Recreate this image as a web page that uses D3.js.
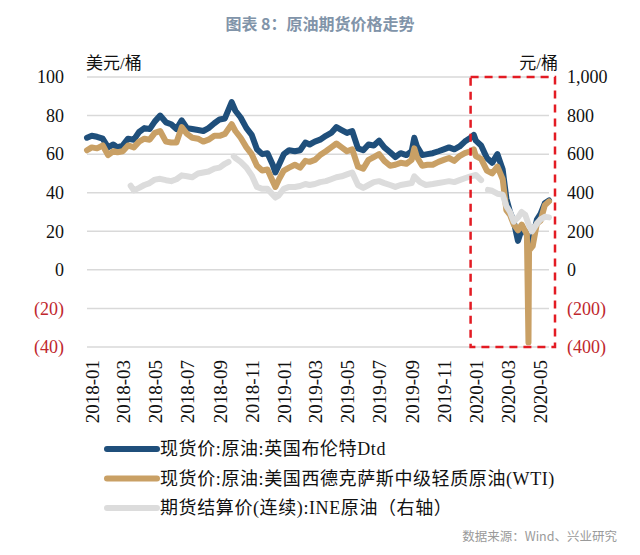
<!DOCTYPE html>
<html>
<head>
<meta charset="utf-8">
<script src="https://cdn.jsdelivr.net/npm/d3@7"></script>
<style>
  body { margin: 0; background: #fff; }
  svg { display: block; }
</style>
</head>
<body>
<script>
var width = 640;
var height = 555;

// spot prices (USD/bbl), same dates for both spot series
var spotDates = [
  "2018-01-02","2018-01-11","2018-01-21","2018-02-01","2018-02-11","2018-02-21",
  "2018-03-01","2018-03-11","2018-03-21","2018-04-01","2018-04-11","2018-04-21",
  "2018-05-01","2018-05-11","2018-05-21","2018-06-01","2018-06-11","2018-06-21",
  "2018-07-01","2018-07-11","2018-07-21","2018-08-01","2018-08-11","2018-08-21",
  "2018-09-01","2018-09-11","2018-09-21","2018-10-04","2018-10-11","2018-10-21",
  "2018-11-01","2018-11-11","2018-11-21","2018-12-01","2018-12-11","2018-12-21","2018-12-26",
  "2019-01-01","2019-01-11","2019-01-21","2019-02-01","2019-02-11","2019-02-21",
  "2019-03-01","2019-03-11","2019-03-21","2019-04-01","2019-04-11","2019-04-21",
  "2019-05-01","2019-05-11","2019-05-21","2019-06-01","2019-06-11","2019-06-21",
  "2019-07-01","2019-07-11","2019-07-21","2019-08-01","2019-08-11","2019-08-21",
  "2019-09-01","2019-09-11","2019-09-16","2019-09-21","2019-10-01","2019-10-11","2019-10-21",
  "2019-11-01","2019-11-11","2019-11-21","2019-12-01","2019-12-11","2019-12-21",
  "2020-01-01","2020-01-07","2020-01-11","2020-01-21","2020-02-01","2020-02-11","2020-02-21",
  "2020-03-02","2020-03-09","2020-03-16","2020-03-23","2020-03-31","2020-04-07","2020-04-14",
  "2020-04-17","2020-04-20","2020-04-21","2020-04-28","2020-05-06","2020-05-13","2020-05-21","2020-05-29"
];

var brent = [
  68.5,69.5,69.0,68.0,63.5,65.0,
  63.5,64.5,68.0,67.5,71.5,73.5,
  73.0,77.0,80.0,76.5,75.5,73.0,
  77.5,73.5,73.0,72.5,72.0,73.5,
  76.0,78.0,78.5,87.0,82.5,79.0,
  73.5,70.0,62.5,60.0,60.5,54.5,50.5,
  54.0,60.0,62.0,61.5,62.0,66.0,
  65.0,66.5,67.5,69.5,71.0,74.0,
  72.5,71.0,72.0,63.0,62.0,65.0,
  64.5,67.0,63.5,61.0,58.5,60.5,
  59.5,61.5,68.5,64.0,59.5,60.0,60.5,
  61.5,62.5,63.5,62.5,64.0,66.5,
  68.5,70.0,67.0,64.5,58.0,55.5,60.0,
  52.0,37.0,30.0,25.0,15.0,21.0,20.0,
  18.0,15.5,14.0,16.5,26.0,29.0,34.5,36.0
];

var wti = [
  62.0,63.5,63.0,64.5,59.5,61.5,
  61.0,61.5,64.5,63.5,66.5,68.0,
  67.5,71.0,72.0,66.5,66.0,66.0,
  74.0,70.5,68.5,68.0,66.5,67.5,
  69.5,69.5,70.5,75.5,72.0,68.5,
  63.5,60.0,54.0,51.5,52.0,46.0,43.0,
  46.5,51.5,53.0,54.5,53.0,56.5,
  56.0,57.0,59.5,61.5,63.5,65.5,
  63.5,61.5,62.5,53.5,52.5,57.0,
  58.5,60.0,56.5,54.0,54.5,55.5,
  55.0,57.0,63.0,58.5,54.0,54.5,54.5,
  56.0,57.0,58.0,56.5,59.0,60.5,
  61.5,62.5,59.0,57.5,51.5,50.0,53.5,
  47.0,31.0,28.5,23.5,20.5,23.5,20.0,
  18.3,-37.6,10.0,12.3,24.0,25.5,33.5,35.5
];

// INE crude futures settlement (CNY/bbl), null = exchange holiday gap
var ineDates = [
  "2018-03-26","2018-04-01","2018-04-11","2018-04-21","2018-05-01","2018-05-11","2018-05-21",
  "2018-06-01","2018-06-11","2018-06-21","2018-07-01","2018-07-11","2018-07-21",
  "2018-08-01","2018-08-11","2018-08-21","2018-09-01","2018-09-11","2018-09-21","2018-09-28",
  "2018-10-03","2018-10-08","2018-10-11","2018-10-21","2018-11-01","2018-11-11","2018-11-21",
  "2018-12-01","2018-12-11","2018-12-21","2018-12-26","2019-01-01","2019-01-11","2019-01-21",
  "2019-02-01","2019-02-11","2019-02-21","2019-03-01","2019-03-11","2019-03-21",
  "2019-04-01","2019-04-11","2019-04-21","2019-05-01","2019-05-11","2019-05-21",
  "2019-06-01","2019-06-11","2019-06-21","2019-07-01","2019-07-11","2019-07-21",
  "2019-08-01","2019-08-11","2019-08-21","2019-09-01","2019-09-11","2019-09-16","2019-09-27",
  "2019-10-08","2019-10-21","2019-11-01","2019-11-11","2019-11-21",
  "2019-12-01","2019-12-11","2019-12-21","2020-01-01","2020-01-11","2020-01-21",
  "2020-01-27","2020-02-03","2020-02-11","2020-02-21","2020-03-02","2020-03-09","2020-03-16",
  "2020-03-23","2020-04-01","2020-04-07","2020-04-14","2020-04-21","2020-04-27",
  "2020-05-06","2020-05-13","2020-05-21","2020-05-29"
];

var ine = [
  436,412,425,440,450,468,472,
  465,460,470,490,485,480,
  500,505,510,525,530,550,560,
  null,588,580,560,530,490,430,
  420,420,390,375,385,420,430,
  430,435,445,440,445,455,
  460,470,480,485,495,505,
  440,425,440,455,460,450,
  440,430,440,445,450,485,455,
  440,445,450,455,460,
  455,465,475,485,492,465,
  null,415,410,395,390,330,300,
  250,275,300,285,230,200,
  240,262,275,272
];

var leftTicks = [100, 80, 60, 40, 20, 0, -20, -40];
var rightTicks = [1000, 800, 600, 400, 200, 0, -200, -400];
var xTickLabels = ["2018-01","2018-03","2018-05","2018-07","2018-09","2018-11",
  "2019-01","2019-03","2019-05","2019-07","2019-09","2019-11",
  "2020-01","2020-03","2020-05"];

var seriesNames = ["现货价:原油:英国布伦特Dtd",
  "现货价:原油:美国西德克萨斯中级轻质原油(WTI)",
  "期货结算价(连续):INE原油（右轴）"];
var seriesColors = ["#1f4f7b", "#c9a065", "#dcdcdc"];

var parseDay = d3.timeParse("%Y-%m-%d");
var parseMonth = d3.timeParse("%Y-%m");

var serif = "'Liberation Serif', 'Noto Sans CJK SC', serif";
var redText = "#c0272d";

var svg = d3.select("body").append("svg")
  .attr("width", width)
  .attr("height", height);

var x = d3.scaleTime()
  .domain([parseDay(spotDates[0]), parseDay(spotDates[spotDates.length - 1])])
  .range([87, 549]);
var y = d3.scaleLinear().domain([-40, 100]).range([347, 77]);
var y2 = d3.scaleLinear().domain([-400, 1000]).range([347, 77]);

// title
svg.append("text")
  .attr("x", 320)
  .attr("y", 30)
  .attr("text-anchor", "middle")
  .style("font-family", "'Noto Sans CJK SC', sans-serif")
  .style("font-size", "16px")
  .style("font-weight", "bold")
  .style("fill", "#8194a9")
  .text("图表 8：原油期货价格走势");

// gridlines
svg.append("g").selectAll("line")
  .data(leftTicks)
  .join("line")
  .attr("x1", 87)
  .attr("x2", 549)
  .attr("y1", function(d) { return y(d); })
  .attr("y2", function(d) { return y(d); })
  .attr("stroke", "#d9d9d9")
  .attr("stroke-width", 1.5);

// left axis labels
svg.append("g").selectAll("text")
  .data(leftTicks)
  .join("text")
  .attr("x", 64)
  .attr("y", function(d) { return y(d); })
  .attr("dy", "0.35em")
  .attr("text-anchor", "end")
  .style("font-family", serif)
  .style("font-size", "18px")
  .style("fill", function(d) { return d < 0 ? redText : "#111"; })
  .text(function(d) { return d < 0 ? "(" + Math.abs(d) + ")" : d; });

// right axis labels
var fmt = d3.format(",");
svg.append("g").selectAll("text")
  .data(rightTicks)
  .join("text")
  .attr("x", 567)
  .attr("y", function(d) { return y2(d); })
  .attr("dy", "0.35em")
  .style("font-family", serif)
  .style("font-size", "18px")
  .style("fill", function(d) { return d < 0 ? redText : "#111"; })
  .text(function(d) { return d < 0 ? "(" + fmt(Math.abs(d)) + ")" : fmt(d); });

// units
svg.append("text")
  .attr("x", 86)
  .attr("y", 69)
  .style("font-family", serif)
  .style("font-size", "17px")
  .style("fill", "#111")
  .text("美元/桶");

svg.append("text")
  .attr("x", 558)
  .attr("y", 69)
  .attr("text-anchor", "end")
  .style("font-family", serif)
  .style("font-size", "17px")
  .style("fill", "#111")
  .text("元/桶");

// x labels
svg.append("g").selectAll("text")
  .data(xTickLabels)
  .join("text")
  .attr("transform", function(d) {
    return "translate(" + (x(parseMonth(d)) + 6) + ",360) rotate(-90)";
  })
  .attr("dy", "0.35em")
  .attr("text-anchor", "end")
  .style("font-family", serif)
  .style("font-size", "19px")
  .style("fill", "#111")
  .text(function(d) { return d; });

// lines
var spot = spotDates.map(function(d, i) {
  return { date: parseDay(d), brent: brent[i], wti: wti[i] };
});
var futures = ineDates.map(function(d, i) {
  return { date: parseDay(d), value: ine[i] };
});

var lineBrent = d3.line()
  .x(function(d) { return x(d.date); })
  .y(function(d) { return y(d.brent); });
var lineWti = d3.line()
  .x(function(d) { return x(d.date); })
  .y(function(d) { return y(d.wti); });
var lineIne = d3.line()
  .defined(function(d) { return d.value !== null; })
  .x(function(d) { return x(d.date); })
  .y(function(d) { return y2(d.value); });

svg.append("path")
  .datum(spot)
  .attr("d", lineBrent)
  .attr("fill", "none")
  .attr("stroke", seriesColors[0])
  .attr("stroke-width", 6)
  .attr("stroke-linejoin", "round")
  .attr("stroke-linecap", "round");

svg.append("path")
  .datum(spot)
  .attr("d", lineWti)
  .attr("fill", "none")
  .attr("stroke", seriesColors[1])
  .attr("stroke-width", 6)
  .attr("stroke-linejoin", "round")
  .attr("stroke-linecap", "round");

svg.append("path")
  .datum(futures)
  .attr("d", lineIne)
  .attr("fill", "none")
  .attr("stroke", seriesColors[2])
  .attr("stroke-width", 6)
  .attr("stroke-linejoin", "round")
  .attr("stroke-linecap", "round");

// red dashed highlight box
svg.append("rect")
  .attr("x", x(parseMonth("2020-01")))
  .attr("y", y(100))
  .attr("width", 555 - x(parseMonth("2020-01")))
  .attr("height", y(-40) - y(100))
  .attr("fill", "none")
  .attr("stroke", "#e31b23")
  .attr("stroke-width", 2.5)
  .attr("stroke-dasharray", "8,6");

// legend
var legend = svg.append("g").selectAll("g")
  .data(seriesNames)
  .join("g")
  .attr("transform", function(d, i) { return "translate(107," + (449 + i * 29.5) + ")"; });

legend.append("line")
  .attr("x1", 0)
  .attr("x2", 50)
  .attr("stroke", function(d, i) { return seriesColors[i]; })
  .attr("stroke-width", 6)
  .attr("stroke-linecap", "round");

legend.append("text")
  .attr("x", 53)
  .attr("dy", "0.35em")
  .style("font-family", serif)
  .style("font-size", "18px")
  .style("letter-spacing", "0.6px")
  .style("fill", "#111")
  .text(function(d) { return d; });

// source
svg.append("text")
  .attr("x", 617)
  .attr("y", 541)
  .attr("text-anchor", "end")
  .style("font-family", "'Noto Sans CJK SC', sans-serif")
  .style("font-size", "12.5px")
  .style("fill", "#9a9a9a")
  .text("数据来源：Wind、兴业研究");
</script>
</body>
</html>
